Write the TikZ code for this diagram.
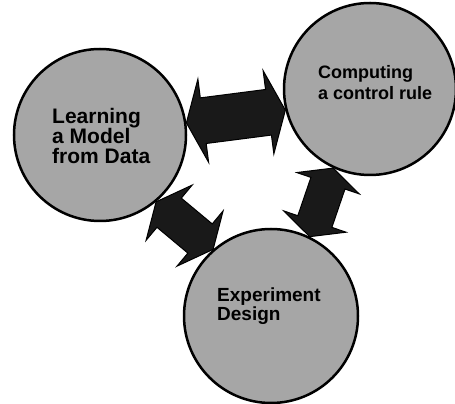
\documentclass[tikz,border=0pt]{standalone}
\usepackage{fontspec}
\setmainfont{Liberation Sans}
\usetikzlibrary{calc,backgrounds}

\tikzset{
  circ/.style={circle, draw=black, line width=2.5pt, fill=black!35, inner sep=0pt},
  lbl/.style={anchor=north west, inner sep=0pt, align=left},
  fat/.style={fill=black!90, draw=black, line width=1pt, line join=miter}
}

% fat double arrow between two tips: shaft half width, head half width, head length
\newcommand{\fatarrow}[5]{%
  \filldraw[fat] (#1)
    -- ($(#1)!#5!(#2)!#4!90:(#2)$) -- ($(#1)!#5!(#2)!#3!90:(#2)$)
    -- ($(#2)!#5!(#1)!#3!-90:(#1)$) -- ($(#2)!#5!(#1)!#4!-90:(#1)$)
    -- (#2)
    -- ($(#2)!#5!(#1)!#4!90:(#1)$) -- ($(#2)!#5!(#1)!#3!90:(#1)$)
    -- ($(#1)!#5!(#2)!#3!-90:(#2)$) -- ($(#1)!#5!(#2)!#4!-90:(#2)$)
    -- cycle;}

\begin{document}
\begin{tikzpicture}[x=1pt,y=1pt]
\useasboundingbox (0,0) rectangle (455,404);

\node[circ, minimum size=172pt] (learn) at (100,269) {};
\node[circ, minimum size=172pt] (comp) at (370,315) {};
\node[circ, minimum size=174pt] (exper) at (271,88) {};

\node[lbl, font=\bfseries\fontsize{21}{20}\selectfont] (learntxt)
  at ([shift={(-48,27)}]learn.center) {Learning\\a Model\\from Data};
\node[lbl, font=\bfseries\fontsize{18}{21}\selectfont] (comptxt)
  at ([shift={(-52,24)}]comp.center) {Computing\\a control rule};
\node[lbl, font=\bfseries\fontsize{19}{19}\selectfont] (expertxt)
  at ([shift={(-54,28)}]exper.center) {Experiment\\Design};

\begin{pgfonlayer}{background}
\fatarrow{learn.8}{comp.194}{23pt}{42pt}{17pt}
\fatarrow{learn.-50}{exper.131}{19pt}{36pt}{17pt}
\fatarrow{comp.245}{exper.64}{18pt}{33pt}{16pt}
\end{pgfonlayer}
\end{tikzpicture}
\end{document}
